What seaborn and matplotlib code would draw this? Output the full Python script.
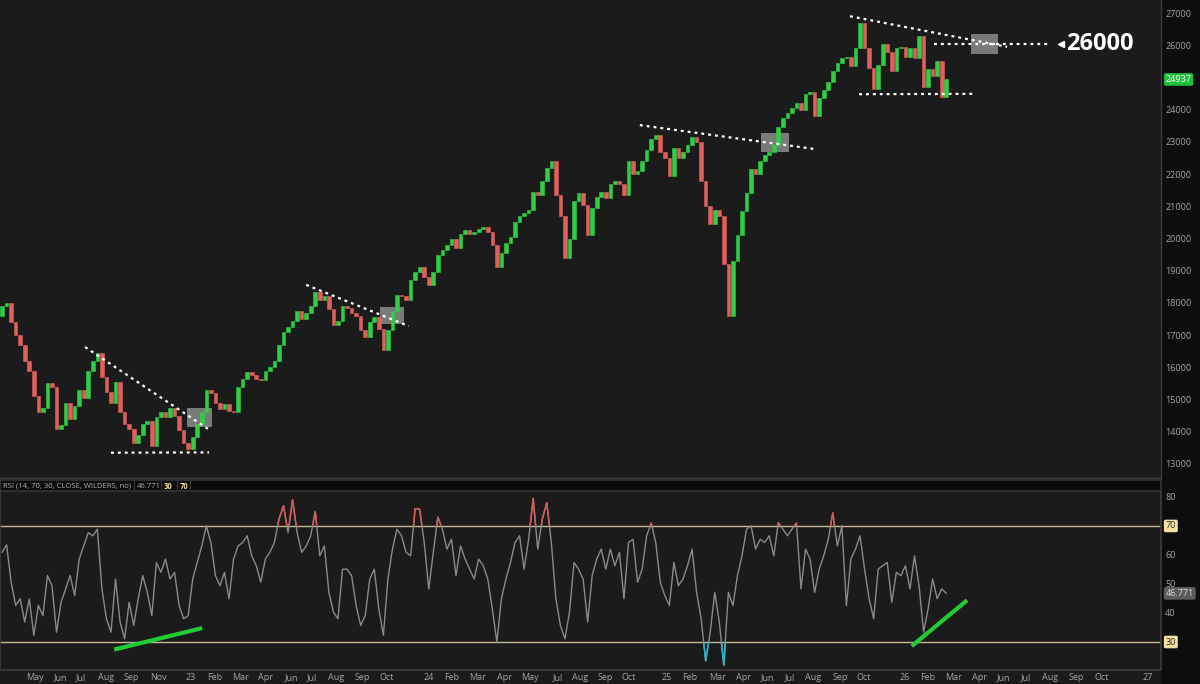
import matplotlib

matplotlib.use("Agg")
import matplotlib.pyplot as plt
import numpy as np
import pandas as pd
import seaborn as sns
from matplotlib.patches import Rectangle

# Недельные закрытия (оценка по графику)
closes = [
    17900, 18000, 17400, 17000, 16700, 16200, 15900, 15100, 14600, 14750,
    15500, 15400, 14100, 14200, 14900, 14400, 14800, 15300, 15050, 15900,
    16200, 16450, 15700, 15250, 14900, 15550, 14600, 14250, 14100, 13650,
    13900, 14250, 14350, 13550, 14450, 14600, 14450, 14750, 14500, 14050,
    13650, 13450, 13850, 14250, 14600, 15300, 15200, 14900, 14700, 14850,
    14650, 14600, 15400, 15650, 15850, 15750, 15650, 15600, 15900, 16000,
    16200, 16700, 17100, 17250, 17450, 17750, 17500, 17700, 17900, 18350,
    18100, 18200, 17800, 17300, 17450, 17900, 17850, 17700, 17600, 17150,
    16950, 17400, 17550, 17200, 16550, 17150, 17750, 18250, 18200, 18100,
    18700, 18950, 19100, 18800, 18550, 18950, 19500, 19650, 19800, 20000,
    19700, 20150, 20250, 20150, 20200, 20300, 20350, 20200, 19800, 19100,
    19550, 19850, 20050, 20500, 20700, 20800, 20900, 21450, 21350, 21800,
    22200, 22400, 21350, 20700, 19400, 20000, 21150, 21400, 21050, 20100,
    20950, 21300, 21450, 21250, 21700, 21800, 21700, 21350, 22400, 22000,
    22100, 22400, 22750, 23100, 23200, 22700, 22500, 21950, 22800, 22500,
    22700, 22900, 23150, 23000, 21800, 21000, 20450, 20900, 20700, 19200,
    17600, 19300, 20100, 20850, 21400, 22150, 22000, 22400, 22600, 22700,
    22900, 23450, 23750, 23900, 24050, 24200, 24000, 24500, 24550, 23800,
    24350, 24600, 24850, 25200, 25450, 25600, 25650, 25350, 25900, 26700,
    25900, 25300, 24650, 25400, 26050, 25800, 25200, 25900, 25950, 25650,
    25900, 25600, 26300, 24700, 25250, 25050, 25500, 24400, 24937,
]
first_open = 17600

rsi_values = [
    60.9, 63.5, 50.6, 42.6, 44.9, 36.9, 44.9, 32.3, 42.6, 39.1,
    52.9, 49.4, 33.4, 43.7, 48.3, 52.9, 46.0, 58.6, 63.1, 67.7,
    66.6, 68.9, 48.3, 38.0, 33.4, 51.7, 36.9, 31.1, 43.7, 35.7,
    44.9, 52.9, 47.1, 39.1, 57.4, 54.0, 58.6, 51.7, 54.0, 42.6,
    38.0, 39.1, 51.7, 57.4, 63.1, 70.0, 64.3, 52.9, 49.4, 54.0,
    44.9, 58.6, 63.1, 64.3, 66.6, 59.7, 56.3, 50.6, 58.6, 60.9,
    64.3, 72.3, 77.0, 67.7, 79.0, 67.7, 60.9, 63.1, 66.6, 75.0,
    59.7, 63.1, 47.1, 40.3, 38.0, 55.1, 55.1, 52.9, 42.6, 35.7,
    39.1, 51.7, 55.1, 41.4, 32.3, 51.7, 62.0, 68.9, 66.6, 60.9,
    59.7, 76.0, 75.7, 64.3, 48.3, 60.9, 73.0, 68.9, 62.0, 65.4,
    52.9, 63.1, 58.6, 55.1, 51.7, 58.6, 56.3, 51.7, 41.4, 30.0,
    44.9, 51.7, 57.4, 64.3, 66.6, 55.1, 65.4, 79.5, 62.0, 72.3,
    78.0, 64.3, 44.9, 35.7, 31.1, 40.3, 57.4, 55.1, 51.7, 36.9,
    52.9, 58.6, 62.0, 55.1, 62.0, 56.3, 60.9, 44.9, 64.3, 65.4,
    50.6, 55.1, 66.6, 71.0, 64.3, 50.6, 46.0, 42.6, 57.4, 49.4,
    51.7, 56.3, 62.0, 47.1, 38.0, 23.5, 33.4, 47.1, 36.9, 22.0,
    47.1, 42.6, 52.9, 59.7, 68.9, 70.0, 62.0, 65.4, 64.3, 66.6,
    59.7, 71.1, 68.9, 66.6, 68.9, 71.0, 48.3, 62.0, 58.6, 47.1,
    55.1, 59.7, 65.4, 74.5, 63.1, 70.0, 42.6, 58.6, 62.0, 66.6,
    55.1, 44.9, 38.0, 55.1, 56.3, 57.4, 43.7, 54.0, 52.9, 56.3,
    48.3, 59.7, 49.4, 33.4, 41.4, 51.7, 44.9, 48.3, 46.771,
]

month_labels = [
    "May", "Jun", "Jul", "Aug", "Sep", "Nov", "23", "Feb", "Mar", "Apr",
    "Jun", "Jul", "Aug", "Sep", "Oct", "24", "Feb", "Mar", "Apr", "May",
    "Jul", "Aug", "Sep", "Oct", "25", "Feb", "Mar", "Apr", "Jun", "Jul",
    "Aug", "Sep", "Oct", "26", "Feb", "Mar", "Apr", "Jun", "Jul", "Aug",
    "Sep", "Oct", "27",
]
month_weeks = [
    7.3, 12.8, 17.4, 22.9, 28.4, 34.4, 41.6, 46.9, 52.6, 58.1,
    63.7, 68.3, 73.6, 79.3, 84.8, 94.1, 99.1, 104.8, 110.6, 116.3,
    122.5, 127.3, 132.8, 138.1, 146.5, 151.5, 157.5, 163.4, 168.7, 173.6,
    178.6, 184.6, 189.9, 198.9, 204.0, 209.7, 215.4, 220.7, 225.6, 230.8,
    236.6, 242.3, 252.4,
]

price_ticks = [13000, 14000, 15000, 16000, 17000, 18000, 19000, 20000,
               21000, 22000, 23000, 24000, 26000, 27000]
rsi_ticks = [40, 50, 60, 80]

# Трендовые линии: (неделя, цена) -> (неделя, цена)
trend_lines = [
    ((18.3, 16630), (46.0, 14030)),
    ((24.0, 13350), (45.6, 13360)),
    ((67.0, 18560), (89.6, 17280)),
    ((140.5, 23520), (178.9, 22780)),
    ((186.8, 26900), (221.4, 25950)),
    ((205.3, 26050), (230.6, 26050)),
    ((188.8, 24480), (213.7, 24490)),
]
# Серые прямоугольники: (неделя0, неделя1, цена0, цена1)
boxes = [
    (40.7, 46.3, 14150, 14740),
    (83.3, 88.5, 17350, 17870),
    (167.2, 173.3, 22690, 23280),
    (213.4, 219.4, 25730, 26350),
]
rsi_lines = [
    ((24.7, 27.4), (44.1, 34.8)),
    ((200.4, 28.6), (212.6, 44.4)),
]

BG = "#1b1b1b"
sns.set_theme(style="dark", rc={"axes.facecolor": BG, "figure.facecolor": BG})
plt.rcParams["font.family"] = ["Open Sans", "DejaVu Sans"]

fig = plt.figure(figsize=(12, 6.84), dpi=100)
W, H = 1200, 684
fig.patches.append(Rectangle((1161 / W, 0), 39 / W, 1, transform=fig.transFigure,
                             facecolor="#0d0d0d", edgecolor="none", zorder=-5))

weeks = np.arange(len(closes))
opens = [first_open] + closes[:-1]
df = pd.DataFrame({"week": weeks, "open": opens, "close": closes, "rsi": rsi_values})
df["body"] = df["close"] - df["open"]
df["color"] = np.where(df["body"] >= 0, "#2fcf45", "#e0605c")

# --- основной график ---
ax = fig.add_axes([0, 1 - 478 / H, 1161 / W, 478 / H])
ax.set_facecolor(BG)
ax.grid(False)
for bx0, bx1, by0, by1 in boxes:
    ax.add_patch(Rectangle((bx0, by0), bx1 - bx0, by1 - by0, facecolor="#7a7a7a",
                           edgecolor="none", zorder=1))
ax.bar(df["week"], df["body"], bottom=df["open"], width=0.8, color=df["color"],
       edgecolor=df["color"], linewidth=0.4, zorder=2)
for (x0, y0), (x1, y1) in trend_lines:
    ax.plot([x0, x1], [y0, y1], color="white", lw=1.6, ls=(0, (1.3, 1.8)), zorder=3)
ax.plot([233.3], [26050], marker="<", ms=4, color="white", zorder=3)
ax.text(234.4, 26050, "26000", color="white", fontsize=17, fontweight="bold",
        ha="left", va="center", zorder=3)

ax.set_xlim(-0.45, 255.3)
ax.set_ylim(12565, 27404)
ax.set_xticks([])
ax.yaxis.tick_right()
ax.set_yticks(price_ticks)
ax.set_yticklabels([str(t) for t in price_ticks])
ax.tick_params(axis="y", length=0, pad=3, labelsize=6.5, labelcolor="#a5a5a5")
for s in ["top", "left"]:
    ax.spines[s].set_visible(False)
for s in ["right", "bottom"]:
    ax.spines[s].set_color("#3c3c3c")
    ax.spines[s].set_linewidth(1)
ax.annotate("24937", xy=(1.004, 24937), xycoords=("axes fraction", "data"),
            ha="left", va="center", fontsize=6.5, color="white", annotation_clip=False,
            bbox=dict(boxstyle="round,pad=0.2", fc="#1fbf3a", ec="none"))

# --- шапка RSI ---
hdr = fig.add_axes([0, 1 - 491 / H, 1161 / W, 11 / H])
hdr.set_facecolor("#0b0b0b")
hdr.set_xlim(0, 1161)
hdr.set_ylim(0, 1)
hdr.set_xticks([])
hdr.set_yticks([])
for s in hdr.spines.values():
    s.set_color("#333333")
hdr.text(3, 0.45, "RSI (14, 70, 30, CLOSE, WILDERS, no)", fontsize=5.5,
         color="#b0b0b0", va="center")
hdr.text(137, 0.45, "46.771", fontsize=5.5, color="#b0b0b0", va="center")
hdr.text(164, 0.45, "30", fontsize=5.5, color="#ecdc98", va="center", fontweight="bold")
hdr.text(180, 0.45, "70", fontsize=5.5, color="#ecdc98", va="center", fontweight="bold")
for xs in [134, 161, 177, 190]:
    hdr.axvline(xs, color="#3a3a3a", lw=0.8)

# --- RSI ---
axr = fig.add_axes([0, 1 - 670 / H, 1161 / W, 178 / H])
axr.set_facecolor(BG)
axr.grid(False)
axr.axhline(70, color="#c8b894", lw=1)
axr.axhline(30, color="#c8b894", lw=1)
sns.lineplot(data=df, x="week", y="rsi", ax=axr, color="#8a8a8a", lw=1)
for col, lo, hi in [("#d45a58", 70, 100), ("#2bb8cc", 0, 30)]:
    ln = axr.plot(df["week"], df["rsi"], color=col, lw=1.1)[0]
    ln.set_clip_path(Rectangle((-10, lo), 400, hi - lo, transform=axr.transData))
for (x0, y0), (x1, y1) in rsi_lines:
    axr.plot([x0, x1], [y0, y1], color="#22cc33", lw=3, solid_capstyle="butt")

axr.set_xlim(-0.45, 255.3)
axr.set_ylim(20.35, 81.7)
axr.set_xlabel("")
axr.set_ylabel("")
axr.set_xticks(month_weeks)
axr.set_xticklabels(month_labels)
axr.tick_params(axis="x", length=0, pad=2, labelsize=6.5, labelcolor="#a5a5a5")
axr.yaxis.tick_right()
axr.set_yticks(rsi_ticks)
axr.set_yticklabels([str(t) for t in rsi_ticks])
axr.tick_params(axis="y", length=0, pad=3, labelsize=6.5, labelcolor="#a5a5a5")
for s in ["top"]:
    axr.spines[s].set_visible(False)
for s in ["right", "bottom", "left"]:
    axr.spines[s].set_color("#3c3c3c")
for val, txt, fc, tc in [(70, "70", "#f2e3a0", "#2a2a2a"), (30, "30", "#f2e3a0", "#2a2a2a"),
                         (46.771, "46.771", "#5c5c5c", "#dcdcdc")]:
    axr.annotate(txt, xy=(1.004, val), xycoords=("axes fraction", "data"), ha="left",
                 va="center", fontsize=6.5, color=tc, annotation_clip=False,
                 bbox=dict(boxstyle="round,pad=0.2", fc=fc, ec="none"))

fig.savefig("out.png", dpi=100, facecolor=fig.get_facecolor())
